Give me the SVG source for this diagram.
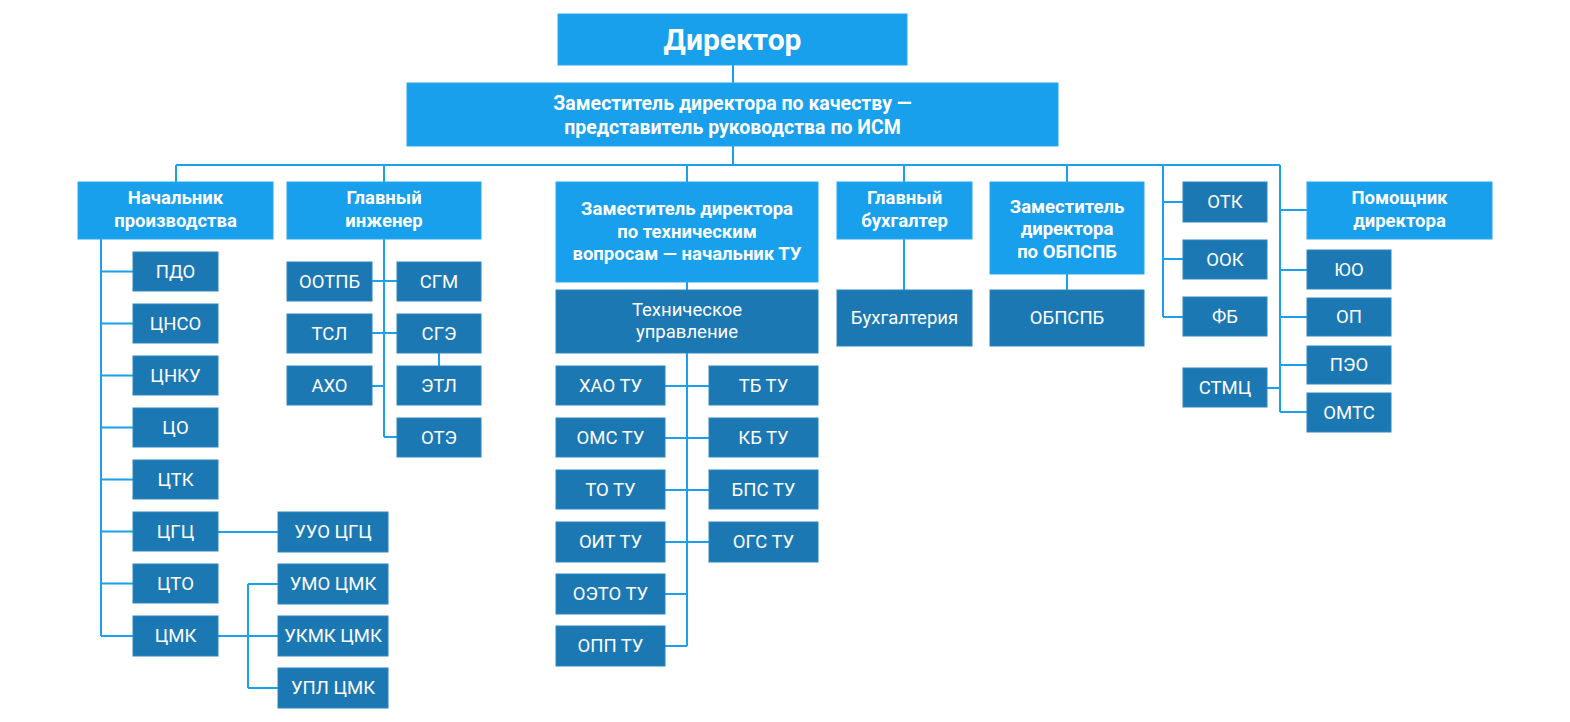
<svg xmlns="http://www.w3.org/2000/svg" width="1570" height="722" viewBox="0 0 1570 722">
<style>
.l{fill:#18a0ec;stroke:#2aa8f0;stroke-width:1}
.d{fill:#1b78b3;stroke:#2a86c0;stroke-width:1}
text{font-family:Roboto,"Liberation Sans",sans-serif;fill:#fff;text-anchor:middle}
.tb{font-weight:700;font-size:18.5px}
.tq{font-weight:700;font-size:19.5px}
.tr{font-weight:400;font-size:18.5px}
.c{fill:none;stroke:#1aa0ec;stroke-width:2}
</style>
<rect width="1570" height="722" fill="#fff"/>
<g id="connectors" class="c">
<path d="M733,65V83M733,146V165M176,165H1280M176,165V182M384,165V182M687,165V182M904,165V182M1067,165V182"/>
<path d="M1163,165V317M1163,202H1183M1163,259H1183M1163,317H1183"/>
<path d="M1280,165V412M1280,210H1307M1280,270H1307M1280,317H1307M1280,365H1307M1280,412H1307M1267,388H1280"/>
<path d="M101,239V636M101,271.5H133M101,323.5H133M101,375.5H133M101,427.5H133M101,479.5H133M101,531.5H133M101,583.5H133M101,636H133"/>
<path d="M218,532H278M218,636H278M248,584V688M248,584H278M248,688H278"/>
<path d="M384,239V437M372,281H397M372,333H397M372,386H384M384,437H397M439,353V366"/>
<path d="M687,282V290M687,353V646M665,386H709M665,438H709M665,490H709M665,542H709M665,594H687M665,646H687"/>
<path d="M904,239V290M1067,274V290"/>
</g>
<g id="director"><rect class="l" x="558" y="14" width="349" height="51"/><text x="732.5" y="50" style="font-weight:700;font-size:30px">Директор</text></g>
<g id="zamq"><rect class="l" x="407" y="83" width="651" height="63"/><text class="tq" x="732.5" y="110">Заместитель директора по качеству —</text><text class="tq" x="732.5" y="134">представитель руководства по ИСМ</text></g>
<g id="nachpr"><rect class="l" x="78" y="182" width="195" height="57"/><text class="tb" x="175.5" y="204">Начальник</text><text class="tb" x="175.5" y="227">производства</text></g>
<g id="glinzh"><rect class="l" x="287" y="182" width="194" height="57"/><text class="tb" x="384" y="204">Главный</text><text class="tb" x="384" y="227">инженер</text></g>
<g id="zamteh"><rect class="l" x="556" y="182" width="262" height="100"/><text class="tb" x="687" y="215">Заместитель директора</text><text class="tb" x="687" y="238">по техническим</text><text class="tb" x="687" y="260">вопросам — начальник ТУ</text></g>
<g id="glbuh"><rect class="l" x="837" y="182" width="135" height="57"/><text class="tb" x="904.5" y="204">Главный</text><text class="tb" x="904.5" y="227">бухгалтер</text></g>
<g id="zamobp"><rect class="l" x="990" y="182" width="154" height="92"/><text class="tb" x="1067" y="213">Заместитель</text><text class="tb" x="1067" y="235">директора</text><text class="tb" x="1067" y="258">по ОБПСПБ</text></g>
<g id="pomdir"><rect class="l" x="1307" y="182" width="185" height="57"/><text class="tb" x="1399.5" y="204">Помощник</text><text class="tb" x="1399.5" y="227">директора</text></g>

<g id="pdo"><rect class="d" x="133" y="252" width="85" height="39"/><text class="tr" x="175.5" y="278">ПДО</text></g>
<g id="cnso"><rect class="d" x="133" y="304" width="85" height="39"/><text class="tr" x="175.5" y="330">ЦНСО</text></g>
<g id="cnku"><rect class="d" x="133" y="356" width="85" height="39"/><text class="tr" x="175.5" y="382">ЦНКУ</text></g>
<g id="co"><rect class="d" x="133" y="408" width="85" height="39"/><text class="tr" x="175.5" y="434">ЦО</text></g>
<g id="ctk"><rect class="d" x="133" y="460" width="85" height="39"/><text class="tr" x="175.5" y="486">ЦТК</text></g>
<g id="cgc"><rect class="d" x="133" y="512" width="85" height="39"/><text class="tr" x="175.5" y="538">ЦГЦ</text></g>
<g id="cto"><rect class="d" x="133" y="564" width="85" height="39"/><text class="tr" x="175.5" y="590">ЦТО</text></g>
<g id="cmk"><rect class="d" x="133" y="616" width="85" height="40"/><text class="tr" x="175.5" y="642">ЦМК</text></g>
<g id="uuo"><rect class="d" x="278" y="512" width="110" height="40"/><text class="tr" x="333" y="538">УУО ЦГЦ</text></g>
<g id="umo"><rect class="d" x="278" y="564" width="110" height="40"/><text class="tr" x="333" y="590">УМО ЦМК</text></g>
<g id="ukmk"><rect class="d" x="278" y="616" width="110" height="40"/><text class="tr" x="333" y="642">УКМК ЦМК</text></g>
<g id="upl"><rect class="d" x="278" y="668" width="110" height="40"/><text class="tr" x="333" y="694">УПЛ ЦМК</text></g>

<g id="ootpb"><rect class="d" x="287" y="262" width="85" height="39"/><text class="tr" x="329.5" y="288">ООТПБ</text></g>
<g id="tsl"><rect class="d" x="287" y="314" width="85" height="39"/><text class="tr" x="329.5" y="340">ТСЛ</text></g>
<g id="aho"><rect class="d" x="287" y="366" width="85" height="39"/><text class="tr" x="329.5" y="392">АХО</text></g>
<g id="sgm"><rect class="d" x="397" y="262" width="84" height="39"/><text class="tr" x="439" y="288">СГМ</text></g>
<g id="sge"><rect class="d" x="397" y="314" width="84" height="39"/><text class="tr" x="439" y="340">СГЭ</text></g>
<g id="etl"><rect class="d" x="397" y="366" width="84" height="39"/><text class="tr" x="439" y="392">ЭТЛ</text></g>
<g id="ote"><rect class="d" x="397" y="418" width="84" height="39"/><text class="tr" x="439" y="444">ОТЭ</text></g>

<g id="tehupr"><rect class="d" x="556" y="290" width="262" height="63"/><text class="tr" x="687" y="316">Техническое</text><text class="tr" x="687" y="338">управление</text></g>
<g id="hao"><rect class="d" x="556" y="366" width="109" height="39"/><text class="tr" x="610.5" y="392">ХАО ТУ</text></g>
<g id="oms"><rect class="d" x="556" y="418" width="109" height="39"/><text class="tr" x="610.5" y="444">ОМС ТУ</text></g>
<g id="to"><rect class="d" x="556" y="470" width="109" height="39"/><text class="tr" x="610.5" y="496">ТО ТУ</text></g>
<g id="oit"><rect class="d" x="556" y="522" width="109" height="40"/><text class="tr" x="610.5" y="548">ОИТ ТУ</text></g>
<g id="oeto"><rect class="d" x="556" y="574" width="109" height="40"/><text class="tr" x="610.5" y="600">ОЭТО ТУ</text></g>
<g id="opp"><rect class="d" x="556" y="626" width="109" height="40"/><text class="tr" x="610.5" y="652">ОПП ТУ</text></g>
<g id="tb"><rect class="d" x="709" y="366" width="109" height="39"/><text class="tr" x="763.5" y="392">ТБ ТУ</text></g>
<g id="kb"><rect class="d" x="709" y="418" width="109" height="39"/><text class="tr" x="763.5" y="444">КБ ТУ</text></g>
<g id="bps"><rect class="d" x="709" y="470" width="109" height="39"/><text class="tr" x="763.5" y="496">БПС ТУ</text></g>
<g id="ogs"><rect class="d" x="709" y="522" width="109" height="40"/><text class="tr" x="763.5" y="548">ОГС ТУ</text></g>

<g id="buh"><rect class="d" x="837" y="290" width="135" height="56"/><text class="tr" x="904.5" y="324">Бухгалтерия</text></g>
<g id="obpspb"><rect class="d" x="990" y="290" width="154" height="56"/><text class="tr" x="1067" y="324">ОБПСПБ</text></g>

<g id="otk"><rect class="d" x="1183" y="182" width="84" height="40"/><text class="tr" x="1225" y="208">ОТК</text></g>
<g id="ook"><rect class="d" x="1183" y="240" width="84" height="39"/><text class="tr" x="1225" y="266">ООК</text></g>
<g id="fb"><rect class="d" x="1183" y="297" width="84" height="39"/><text class="tr" x="1225" y="323">ФБ</text></g>
<g id="stmc"><rect class="d" x="1183" y="368" width="84" height="39"/><text class="tr" x="1225" y="394">СТМЦ</text></g>
<g id="yuo"><rect class="d" x="1307" y="250" width="84" height="39"/><text class="tr" x="1349" y="276">ЮО</text></g>
<g id="op"><rect class="d" x="1307" y="298" width="84" height="38"/><text class="tr" x="1349" y="323">ОП</text></g>
<g id="peo"><rect class="d" x="1307" y="346" width="84" height="38"/><text class="tr" x="1349" y="371">ПЭО</text></g>
<g id="omts"><rect class="d" x="1307" y="393" width="84" height="39"/><text class="tr" x="1349" y="419">ОМТС</text></g>
</svg>
